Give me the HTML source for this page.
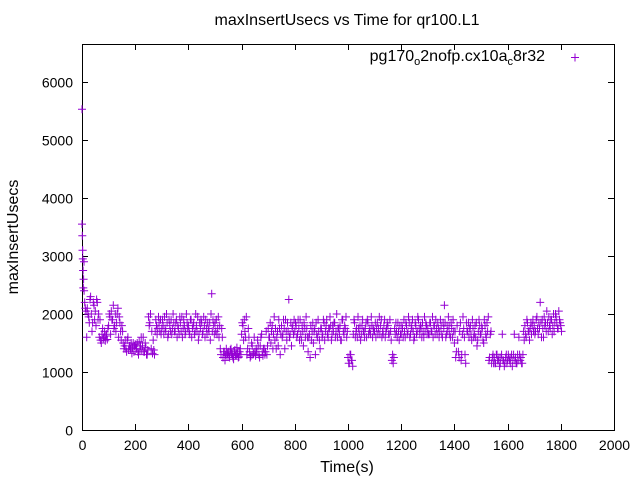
<!DOCTYPE html>
<html><head><meta charset="utf-8"><style>
body{margin:0;background:#fff}
svg text{font-family:"Liberation Sans",sans-serif;font-size:14px;fill:#000}
svg text.big{font-size:16px}
</style></head><body>
<svg id="c" width="640" height="480">
<rect x="0" y="0" width="640" height="480" fill="#fff"/>
<g id="axes"></g>
<g id="pts" stroke="#9400d3" stroke-width="1" fill="none"></g>
<text class="big" x="347" y="25" text-anchor="middle">maxInsertUsecs vs Time for qr100.L1</text>
<text class="big" x="347" y="472" text-anchor="middle">Time(s)</text>
<text class="big" transform="translate(18,237) rotate(-90)" text-anchor="middle">maxInsertUsecs</text>
<g>
<text class="big" x="545" y="61" text-anchor="end">pg170<tspan font-size="11" dy="4">o</tspan><tspan dy="-4">2nofp.cx10a</tspan><tspan font-size="11" dy="4">c</tspan><tspan dy="-4">8r32</tspan></text>
<path d="M571 57.5h8M575 53.5v8" stroke="#9400d3" stroke-width="1"/>
</g>
</svg>
<script>
const xTicks=[0,200,400,600,800,1000,1200,1400,1600,1800,2000];
const yTicks=[0,1000,2000,3000,4000,5000,6000];
const step=5;
const earlyT=[0,1,2,3,4,6,8];
const earlyV=[5530,3350,3100,2950,2750,2600,2400];
const seriesA=[3550,2450,2200,2050,2100,1950,2250,2000,1850,2150,
2050,2250,1900,1600,1550,1650,1580,1700,1620,1560,
1800,1950,2050,1900,1750,2000,1850,2100,1950,1700,
1800,1500,1450,1400,1550,1380,1450,1500,1420,1350,
1480,1400,1350,1520,1450,1380,1600,1350,1420,1300,
1950,1850,1400,1320,1380,1700,1800,1750,1850,1900,
1750,1800,1950,1700,1850,1650,1800,1900,1750,1850,
1700,1900,1800,1650,1850,1950,1750,1800,1700,1850,
1800,1650,1900,1750,1850,1700,1800,1950,1650,1750,
1850,1700,1800,1900,1650,1750,1850,2000,1700,1800,
1850,1900,1750,1600,1400,1750,1250,1350,1300,1280,
1350,1250,1400,1300,1220,1380,1300,1320,1260,1400,
1650,1800,1900,1600,1300,1750,1350,1280,1450,1320,
1350,1400,1550,1300,1450,1650,1280,1400,1350,1300,
1750,1600,1500,1800,1650,1550,1400,1700,1900,1300,
1800,1650,1750,1900,1550,1700,1600,1850,1750,1650,
1700,1800,1650,1750,1900,1550,1700,1850,1600,1750,
1350,1650,1800,1700,1500,1750,1850,1600,1700,1400,
1750,1650,1850,1700,1900,1600,1750,1800,1650,1700,
1850,1700,1600,1750,1800,1550,1900,1650,1750,1600,
1250,1150,1300,1200,1650,1850,1700,1600,1750,1800,
1650,1900,1700,1750,1600,1850,1700,1650,1800,1750,
1700,1600,1850,1750,1650,1900,1700,1800,1600,1750,
1800,1650,1700,1200,1150,1750,1850,1600,1700,1800,
1650,1750,1900,1600,1800,1700,1850,1650,1750,1700,
1600,1800,1700,1900,1650,1750,1850,1600,1700,1800,
1750,1650,1850,1700,1600,1800,1900,1650,1750,1700,
1800,1600,1750,1850,1650,1700,1800,1600,1750,1900,
1500,1250,1800,1350,1700,1200,1650,1750,1300,1850,
1700,1600,1800,1550,1750,1650,1600,1450,1700,1800,
1650,1750,1500,1800,1600,1700,1200,1650,1150,1300,
1250,1150,1300,1200,1100,1250,1650,1200,1150,1300,
1200,1250,1150,1300,1200,1650,1250,1150,1200,1300,
1250,1150,1700,1800,1600,1850,1700,1750,1650,1900,
1800,1700,1950,1650,1750,1850,1900,1600,1800,1700,
1850,1950,1750,1900,1800,1700,2000,1850,1750,1900,1800];
const seriesB=[3100,2900,2100,1600,2000,1850,2300,1700,2200,1900,
1800,2200,2000,1900,1500,1750,1600,1540,1650,1750,
2000,1650,1900,2150,1800,1700,2000,1600,1850,1550,
1700,1400,1550,1350,1600,1450,1400,1320,1500,1450,
1400,1500,1300,1380,1600,1450,1350,1500,1300,1380,
1800,2000,1700,1550,1300,1900,1650,1950,1700,1650,
1900,1650,1750,2000,1600,1900,1700,1650,2000,1700,
1850,1600,1750,1950,1700,1600,1900,1650,2000,1750,
1700,1900,1600,1800,1650,2000,1700,1550,1850,1900,
1650,1950,1600,1750,1850,1700,1550,2350,1900,1650,
1700,1650,1950,1800,1300,1600,1350,1200,1400,1320,
1280,1380,1320,1250,1350,1280,1420,1250,1350,1300,
1850,1550,1700,1950,1400,1600,1250,1500,1300,1600,
1280,1350,1450,1250,1600,1350,1400,1300,1700,1450,
1600,1850,1700,1400,1950,1750,1600,1450,1750,1650,
1600,1900,1400,1700,1850,2250,1650,1450,1800,1900,
1850,1600,1900,1550,1650,1800,1450,1750,1950,1600,
1600,1250,1550,1850,1700,1300,1650,1900,1550,1750,
1600,1900,1550,1800,1650,1750,1950,1550,1800,1850,
1600,2000,1750,1650,1550,1900,1700,1800,1950,1700,
1150,1300,1200,1100,1900,1600,1750,1950,1650,1550,
1800,1700,1600,1850,1900,1650,1750,1950,1600,1700,
1850,1750,1650,1950,1800,1600,1650,1900,1700,1850,
1650,1900,1550,1300,1250,1650,1700,1850,1550,1650,
1800,1600,1700,1850,1650,1950,1600,1800,1900,1550,
1850,1650,1950,1750,1800,1600,1700,1950,1850,1650,
1650,1850,1700,1950,1800,1650,1750,1850,1600,1900,
1650,1850,2150,1600,1800,1950,1650,1850,1600,1700,
1700,1350,1550,1250,1850,1300,1950,1600,1150,1700,
1850,1750,1650,1900,1600,1800,1850,1550,1900,1650,
1800,1550,1900,1650,1850,1950,1250,1700,1250,1150,
1150,1300,1200,1250,1150,1300,1200,1100,1250,1150,
1300,1200,1250,1100,1300,1200,1150,1300,1600,1200,
1150,1300,1550,1650,1900,1700,1550,1850,1800,1700,
1650,1900,1750,1850,2200,1600,1750,1950,1850,2050,
1700,1800,1900,1650,2000,1850,1950,1750,2050,1850,1700];

const X0=82,X1=614,Y0=430,Y1=44;
const xs=v=>X0+v/2000*(X1-X0);
const ys=v=>Y0-v*0.058;
const NS='http://www.w3.org/2000/svg';
const axes=document.getElementById('axes');
function mk(tag,attrs,parent){const e=document.createElementNS(NS,tag);for(const k in attrs)e.setAttribute(k,attrs[k]);parent.appendChild(e);return e;}
const frame=mk('rect',{x:X0+0.5,y:Y1+0.5,width:X1-X0,height:Y0-Y1,fill:'none',stroke:'#000','stroke-width':1},axes);


xTicks.forEach(t=>{
  const x=Math.round(xs(t))+0.5;
  const tk=mk('path',{d:`M${x} ${Y0}v-6M${x} ${Y1}v6`,stroke:'#000'},axes);
  
  
  const lb=mk('text',{x:x,y:Y0+20,'text-anchor':'middle'},axes);lb.textContent=t;
  
  
});
yTicks.forEach(t=>{
  const y=Math.round(ys(t))+0.5;
  const tk=mk('path',{d:`M${X0} ${y}h6M${X1} ${y}h-6`,stroke:'#000'},axes);
  
  
  const lb=mk('text',{x:X0-9,y:y+5,'text-anchor':'end'},axes);lb.textContent=t;
  
  
});
const pts=document.getElementById('pts');
let d='';
function add(t,v){const x=xs(t),y=ys(v);d+=`M${(x-4).toFixed(1)} ${y.toFixed(1)}h8M${x.toFixed(1)} ${(y-4).toFixed(1)}v8`;}
earlyT.forEach((t,i)=>add(t,earlyV[i]));
seriesA.forEach((v,i)=>add(i*step,v));
seriesB.forEach((v,i)=>add(i*step+step/2,v));
const p=mk('path',{d:d},pts);


</script>
</body></html>
